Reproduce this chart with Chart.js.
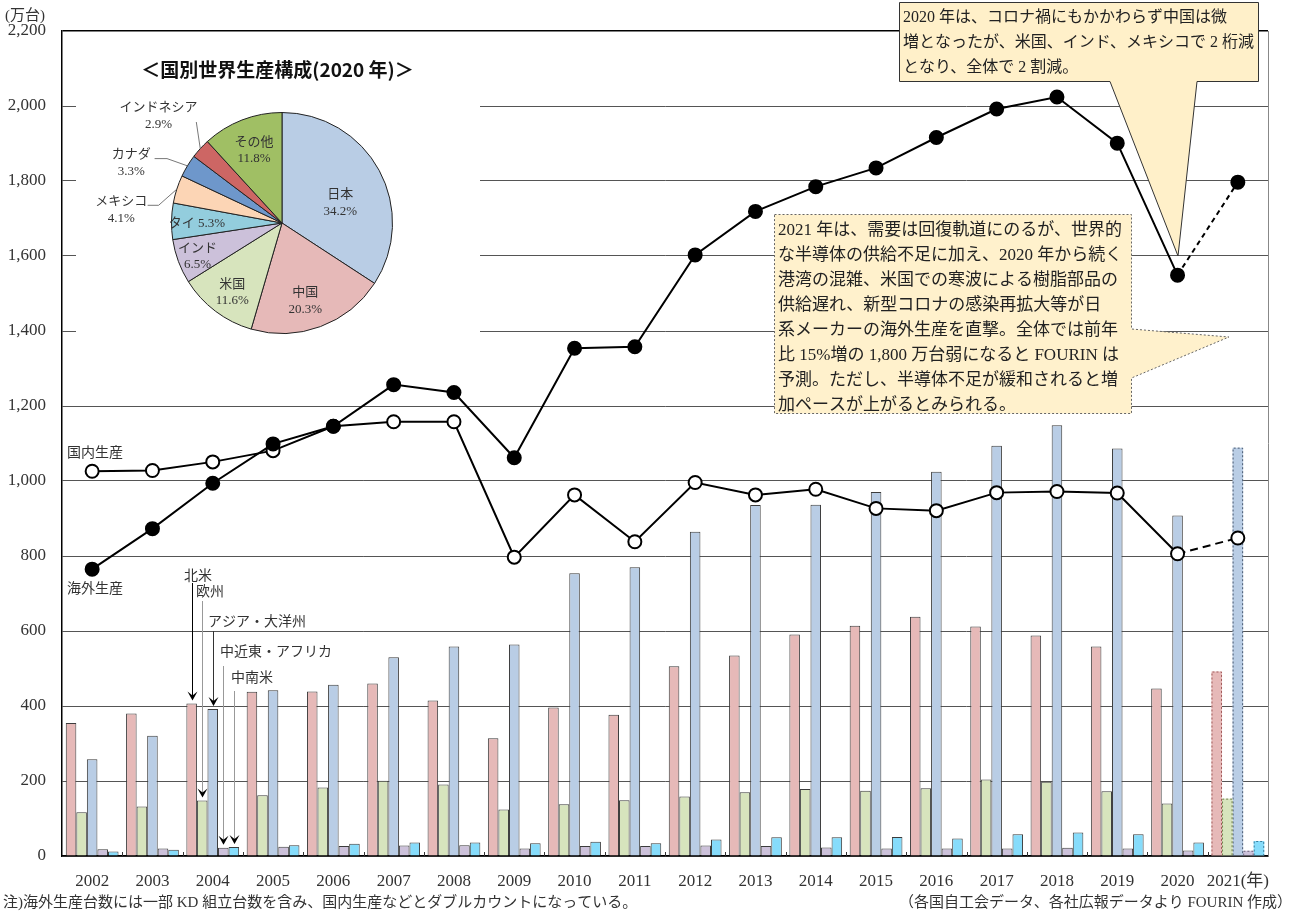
<!DOCTYPE html>
<html lang="ja">
<head>
<meta charset="utf-8">
<title>日系自動車メーカーの国内・海外生産台数</title>
<script src="https://cdn.jsdelivr.net/npm/chart.js@4.4.1/dist/chart.umd.min.js"></script>
<style>
body { margin: 0; background: #fff; }
#wrap { position: relative; width: 1293px; height: 914px; }
#pieChart { position: absolute; left: 76px; top: 33px; background: #fff; }
</style>
</head>
<body>
<div id="wrap">
<canvas id="mainChart" width="1293" height="914"></canvas>
<canvas id="pieChart" width="404" height="304"></canvas>
</div>
<script>
// 年次（2021 年は見通し）
const years = ["2002", "2003", "2004", "2005", "2006", "2007", "2008", "2009", "2010", "2011",
    "2012", "2013", "2014", "2015", "2016", "2017", "2018", "2019", "2020", "2021"]

// 地域別海外生産（万台）
const northAmerica = [355, 380, 407, 438, 439, 460, 415, 314, 396, 377, 506, 535, 591, 614, 638, 612, 588, 559, 447, 492]
const europe = [117, 132, 148, 162, 183, 201, 191, 124, 138, 149, 159, 170, 179, 174, 181, 204, 198, 173, 140, 153]
const asiaOceania = [258, 321, 392, 442, 457, 530, 559, 564, 754, 770, 865, 936, 937, 971, 1025, 1094, 1149, 1087, 908, 1089]
const middleEastAfrica = [18, 20, 22, 25, 27, 28, 29, 20, 27, 27, 28, 27, 23, 20, 20, 20, 22, 20, 15, 14]
const latinAmerica = [12, 17, 24, 29, 33, 36, 36, 34, 38, 34, 44, 50, 50, 51, 47, 58, 63, 58, 36, 40]

// 海外生産・国内生産 合計（万台）
const overseas = [765, 873, 994, 1099, 1146, 1257, 1236, 1062, 1354, 1358, 1603, 1719, 1785, 1835, 1916, 1992, 2024, 1901, 1549, 1797]
const domestic = [1026, 1028, 1051, 1081, 1146, 1158, 1158, 797, 963, 838, 996, 963, 978, 927, 921, 969, 972, 968, 806, 848]

// 国別世界生産構成 2020 年（%）
const pieLabels = ["日本", "中国", "米国", "インド", "タイ", "メキシコ", "カナダ", "インドネシア", "その他"]
const pieShares = [34.2, 20.3, 11.6, 6.5, 5.3, 4.1, 3.3, 2.9, 11.8]

const pieColors = ["#b9cde5", "#e6b9b8", "#d7e4bd", "#ccc1da", "#93cddd", "#fcd5b5", "#6e97cb", "#cd6664", "#a0bf64"]

const serif = "'Liberation Serif', 'Noto Sans CJK JP', serif"
const gothic = "'Noto Sans CJK JP', 'Noto Sans', sans-serif"
const LAST = years.length - 1

function barSet(label, data, color, dashColor) {
    return {
        type: "bar",
        label: label,
        data: data,
        order: 1,
        backgroundColor: color,
        borderColor: "#3c3c3c",
        borderWidth: ctx => ctx.dataIndex === LAST ? 0 : 1,
        dashColor: dashColor,
        barPercentage: 1,
        categoryPercentage: 0.875
    }
}

function lineSet(label, data, fill, dash) {
    return {
        type: "line",
        label: label,
        data: data,
        order: 0,
        borderColor: "#000",
        borderWidth: 2,
        pointRadius: 6.5,
        pointBorderWidth: 2,
        pointBackgroundColor: fill,
        pointBorderColor: "#000",
        tension: 0,
        segment: {
            borderDash: ctx => ctx.p1DataIndex === LAST ? dash : undefined
        }
    }
}

// 矢印付きの地域名（2004 年の棒を指す）
const arrowNotes = [
    { text: "北米", ds: 0, tx: 184, ty: 575, top: 583, color: "#000" },
    { text: "欧州", ds: 1, tx: 196, ty: 591, top: 601, color: "#999" },
    { text: "アジア・大洋州", ds: 2, tx: 208, ty: 621, top: 631, color: "#333" },
    { text: "中近東・アフリカ", ds: 3, tx: 220, ty: 651, top: 666, color: "#999" },
    { text: "中南米", ds: 4, tx: 231, ty: 677, top: 691, color: "#999" }
]

const note2020 = [
    "2020 年は、コロナ禍にもかかわらず中国は微",
    "増となったが、米国、インド、メキシコで 2 桁減",
    "となり、全体で 2 割減。"
]

const note2021 = [
    "2021 年は、需要は回復軌道にのるが、世界的",
    "な半導体の供給不足に加え、2020 年から続く",
    "港湾の混雑、米国での寒波による樹脂部品の",
    "供給遅れ、新型コロナの感染再拡大等が日",
    "系メーカーの海外生産を直撃。全体では前年",
    "比 15%増の 1,800 万台弱になると FOURIN は",
    "予測。ただし、半導体不足が緩和されると増",
    "加ペースが上がるとみられる。"
]

function polygon(ctx, pts) {
    ctx.beginPath()
    ctx.moveTo(pts[0][0], pts[0][1])
    for (let i = 1; i < pts.length; i++) ctx.lineTo(pts[i][0], pts[i][1])
    ctx.closePath()
}

const dashedBars = {
    id: "dashedBars",
    afterDatasetDraw(chart, args) {
        const ds = chart.data.datasets[args.index]
        if (ds.type !== "bar") return
        const el = args.meta.data[LAST]
        const ctx = chart.ctx
        const w = el.width
        ctx.save()
        ctx.strokeStyle = ds.dashColor
        ctx.lineWidth = 1
        ctx.setLineDash([2, 2])
        ctx.beginPath()
        ctx.moveTo(el.x - w / 2 + 0.5, el.base)
        ctx.lineTo(el.x - w / 2 + 0.5, el.y + 0.5)
        ctx.lineTo(el.x + w / 2 - 0.5, el.y + 0.5)
        ctx.lineTo(el.x + w / 2 - 0.5, el.base)
        ctx.stroke()
        ctx.restore()
    }
}

const annotations = {
    id: "annotations",
    afterDraw(chart) {
        const ctx = chart.ctx
        const area = chart.chartArea
        const x = chart.scales.x
        ctx.save()

        // 右枠
        ctx.strokeStyle = "#888"
        ctx.lineWidth = 1
        ctx.beginPath()
        ctx.moveTo(area.right + 0.5, area.top)
        ctx.lineTo(area.right + 0.5, area.bottom)
        ctx.stroke()

        // 年の区切り目盛り
        ctx.strokeStyle = "#333"
        for (let i = 1; i < years.length; i++) {
            const px = Math.round((x.getPixelForValue(i - 1) + x.getPixelForValue(i)) / 2) + 0.5
            ctx.beginPath()
            ctx.moveTo(px, area.bottom)
            ctx.lineTo(px, area.bottom - 4)
            ctx.stroke()
        }

        ctx.fillStyle = "#333"
        ctx.textBaseline = "middle"
        ctx.textAlign = "left"
        ctx.font = "15px " + serif
        ctx.fillText("(万台)", 5, 16)

        ctx.font = "14px " + gothic
        ctx.fillText("国内生産", 67, 452)
        ctx.fillText("海外生産", 67, 588)

        // 地域名と矢印
        arrowNotes.forEach(n => {
            const el = chart.getDatasetMeta(n.ds).data[2]
            const tip = el.y - 3
            ctx.fillStyle = "#333"
            ctx.fillText(n.text, n.tx, n.ty)
            ctx.strokeStyle = n.color
            ctx.lineWidth = 1
            ctx.beginPath()
            ctx.moveTo(Math.round(el.x) + 0.5, n.top)
            ctx.lineTo(Math.round(el.x) + 0.5, tip - 4)
            ctx.stroke()
            ctx.fillStyle = "#000"
            const ax = Math.round(el.x) + 0.5
            polygon(ctx, [[ax - 5, tip - 9], [ax, tip], [ax + 5, tip - 9], [ax, tip - 5]])
            ctx.fill()
        })

        // 吹き出し 2020 年
        ctx.fillStyle = "#fff0c9"
        ctx.strokeStyle = "#333"
        ctx.lineWidth = 1
        polygon(ctx, [[899.5, 2.5], [1258.5, 2.5], [1258.5, 81.5], [1197, 81.5], [1178, 256], [1110, 81.5], [899.5, 81.5]])
        ctx.fill()
        ctx.stroke()
        ctx.fillStyle = "#222"
        ctx.font = "16px " + serif
        note2020.forEach((line, i) => ctx.fillText(line, 903, 18 + i * 25))

        // 吹き出し 2021 年
        ctx.fillStyle = "#fff1cc"
        ctx.strokeStyle = "#666"
        ctx.setLineDash([2, 2])
        polygon(ctx, [[774.5, 214.5], [1131.5, 214.5], [1131.5, 329], [1229, 337], [1131.5, 378], [1131.5, 413.5], [774.5, 413.5]])
        ctx.fill()
        ctx.stroke()
        ctx.setLineDash([])
        ctx.fillStyle = "#222"
        ctx.font = "17px " + serif
        note2021.forEach((line, i) => ctx.fillText(line, 778, 231 + i * 25))

        // 注記
        ctx.fillStyle = "#333"
        ctx.font = "15px " + serif
        ctx.fillText("注)海外生産台数には一部 KD 組立台数を含み、国内生産などとダブルカウントになっている。", 3, 903)
        ctx.textAlign = "right"
        ctx.fillText("（各国自工会データ、各社広報データより FOURIN 作成）", 1292, 903)
        ctx.restore()
    }
}

new Chart(document.getElementById("mainChart"), {
    data: {
        labels: years,
        datasets: [
            barSet("北米", northAmerica, "#e6b9b8", "#a05a5a"),
            barSet("欧州", europe, "#d7e4bd", "#6e7f4a"),
            barSet("アジア・大洋州", asiaOceania, "#b9cde5", "#4a5a70"),
            barSet("中近東・アフリカ", middleEastAfrica, "#ccc1da", "#6a5f7a"),
            barSet("中南米", latinAmerica, "#86dcfb", "#3a7a9a"),
            lineSet("海外生産", overseas, "#000", [5, 4]),
            lineSet("国内生産", domestic, "#fff", [8, 5])
        ]
    },
    options: {
        responsive: false,
        animation: false,
        layout: { padding: { top: 31, right: 25, left: 0, bottom: 0 } },
        plugins: {
            legend: { display: false },
            tooltip: { enabled: false }
        },
        scales: {
            x: {
                grid: { display: false },
                border: { color: "#000", width: 1.5 },
                ticks: {
                    font: { family: serif, size: 17 },
                    color: "#333",
                    padding: 7,
                    maxRotation: 0,
                    autoSkip: false,
                    callback: (v, i) => i === LAST ? years[i] + "(年)" : years[i]
                },
                afterFit: s => { s.height = 58 }
            },
            y: {
                min: 0,
                max: 2200,
                ticks: {
                    stepSize: 200,
                    padding: 16,
                    font: { family: serif, size: 17 },
                    color: "#333",
                    callback: v => v.toLocaleString("en-US")
                },
                grid: {
                    drawTicks: false,
                    color: ctx => ctx.tick && ctx.tick.value === 2200 ? "#000" : "#555",
                    lineWidth: ctx => ctx.tick && ctx.tick.value === 2200 ? 1.5 : 1
                },
                border: { color: "#000", width: 1.5 },
                afterFit: s => { s.width = 62 }
            }
        }
    },
    plugins: [dashedBars, annotations]
})

// 円グラフのラベル位置（中心からの比率・回転、外側ラベルは中心からのずれ）
const pieLabelPlacement = [
    { r: 0.56, turn: 9 },
    { r: 0.73, turn: 3.5 },
    { r: 0.77, turn: -1.3 },
    { r: 0.82, turn: -1 },
    { r: 0.77, turn: -1, inline: true },
    { at: [-160.7, -13.9], leader: [[-123.4, -17.7], [-134.4, -17.7]] },
    { at: [-150.7, -60.5], leader: [[-115, -64.4], [-127.4, -64.4]] },
    { at: [-123.4, -107.7], leader: [[-85.7, -101]] },
    { r: 0.71, turn: 0.3 }
]

const pieText = {
    id: "pieText",
    afterDraw(chart) {
        const ctx = chart.ctx
        const arcs = chart.getDatasetMeta(0).data
        ctx.save()
        ctx.textAlign = "center"
        ctx.textBaseline = "middle"
        ctx.fillStyle = "#111"
        ctx.font = "bold 19px " + gothic
        ctx.fillText("＜国別世界生産構成(2020 年)＞", 201.5, 37)

        arcs.forEach((arc, i) => {
            const p = pieLabelPlacement[i]
            const pct = pieShares[i].toFixed(1) + "%"
            const R = arc.outerRadius
            let cx, cy
            if (p.at) {
                const mid = (arc.startAngle + arc.endAngle) / 2
                const ex = arc.x + Math.cos(mid) * R
                const ey = arc.y + Math.sin(mid) * R
                ctx.strokeStyle = "#555"
                ctx.lineWidth = 0.8
                ctx.beginPath()
                ctx.moveTo(ex, ey)
                p.leader.forEach(q => ctx.lineTo(arc.x + q[0], arc.y + q[1]))
                ctx.stroke()
                cx = arc.x + p.at[0]
                cy = arc.y + p.at[1]
            } else {
                const mid = (arc.startAngle + arc.endAngle) / 2 + p.turn * Math.PI / 180
                cx = arc.x + Math.cos(mid) * R * p.r
                cy = arc.y + Math.sin(mid) * R * p.r
            }
            ctx.fillStyle = "#333"
            if (p.inline) {
                ctx.font = "13px " + serif
                ctx.fillText(pieLabels[i] + " " + pct, cx, cy)
            } else {
                ctx.font = "13px " + gothic
                ctx.fillText(pieLabels[i], cx, cy - 9)
                ctx.font = "13px " + serif
                ctx.fillText(pct, cx, cy + 9)
            }
        })
        ctx.restore()
    }
}

new Chart(document.getElementById("pieChart"), {
    type: "pie",
    data: {
        labels: pieLabels,
        datasets: [{
            data: pieShares,
            backgroundColor: pieColors,
            borderColor: "#222",
            borderWidth: 1
        }]
    },
    options: {
        responsive: false,
        animation: false,
        layout: { padding: { left: 95, right: 87, top: 79, bottom: 3 } },
        plugins: {
            legend: { display: false },
            tooltip: { enabled: false }
        }
    },
    plugins: [pieText]
})
</script>
</body>
</html>
